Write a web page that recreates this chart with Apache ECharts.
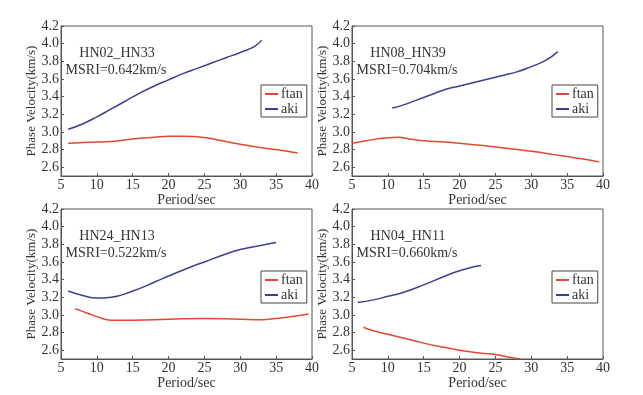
<!DOCTYPE html>
<html>
<head>
<meta charset="utf-8">
<script src="https://cdn.jsdelivr.net/npm/echarts@6/dist/echarts.min.js"></script>
<style>
  html, body { margin: 0; padding: 0; background: #fff; }
  #chart { width: 643px; height: 395px; }
</style>
</head>
<body>
<div id="chart"></div>
<script>
  // panel labels
  var pairNames = ['HN02_HN33', 'HN08_HN39', 'HN24_HN13', 'HN04_HN11']
  var msriLabels = ['MSRI=0.642km/s', 'MSRI=0.704km/s', 'MSRI=0.522km/s', 'MSRI=0.660km/s']
  var xTicks = [5, 10, 15, 20, 25, 30, 35, 40]
  var yTicks = [2.6, 2.8, 3.0, 3.2, 3.4, 3.6, 3.8, 4.0, 4.2]

  // [period, velocity]
  var ftan1 = [[6, 2.87], [8, 2.88], [10, 2.885], [12, 2.89], [15, 2.92], [18, 2.94], [20, 2.95], [22, 2.95], [25, 2.935], [28, 2.89], [30, 2.86], [33, 2.82], [35, 2.80], [38, 2.76]]
  var aki1 = [[6, 3.03], [8, 3.09], [10, 3.17], [12, 3.26], [14, 3.35], [16, 3.44], [18, 3.52], [20, 3.59], [22, 3.66], [24, 3.72], [26, 3.78], [28, 3.84], [30, 3.90], [32, 3.97], [33, 4.04]]

  var ftan2 = [[5, 2.87], [7, 2.90], [9, 2.925], [11.5, 2.94], [13, 2.92], [15, 2.90], [18, 2.885], [20, 2.87], [22, 2.855], [25, 2.83], [28, 2.80], [30, 2.78], [33, 2.745], [35, 2.72], [37, 2.695], [39.5, 2.66]]
  var aki2 = [[10.6, 3.27], [12, 3.30], [14, 3.36], [16, 3.42], [18, 3.48], [20, 3.52], [22, 3.56], [24, 3.60], [26, 3.64], [28, 3.68], [30, 3.74], [32, 3.81], [33.7, 3.91]]

  var ftan3 = [[7, 3.07], [8, 3.04], [9, 3.01], [10, 2.98], [12, 2.94], [15, 2.94], [20, 2.95], [25, 2.96], [30, 2.95], [33, 2.945], [35, 2.96], [37.5, 2.985], [39.5, 3.01]]
  var aki3 = [[6, 3.27], [8, 3.22], [10, 3.19], [12, 3.20], [15, 3.27], [18, 3.37], [20, 3.44], [23, 3.54], [25, 3.60], [28, 3.69], [30, 3.74], [33, 3.79], [35, 3.82]]

  var ftan4 = [[6.6, 2.86], [8, 2.82], [10, 2.78], [12, 2.74], [15, 2.68], [18, 2.63], [20, 2.60], [23, 2.565], [25, 2.55], [27, 2.52], [28.5, 2.50]]
  var aki4 = [[5.8, 3.14], [8, 3.17], [10, 3.21], [12, 3.25], [15, 3.34], [18, 3.44], [20, 3.50], [22, 3.545], [23, 3.56]]

  var ftanData = [ftan1, ftan2, ftan3, ftan4]
  var akiData = [aki1, aki2, aki3, aki4]

  var red = '#e4472f'
  var blue = '#3b4190'
  var font = 'Liberation Serif'
  var ink = '#333'

  // panel boxes
  var boxes = [
    { left: 61, top: 26 },
    { left: 352, top: 26 },
    { left: 61, top: 209 },
    { left: 352, top: 209 }
  ]
  var boxW = 251
  var boxH = 150

  var chart = echarts.init(document.getElementById('chart'))

  var grids = [], xAxes = [], yAxes = [], series = [], legends = [], graphics = []
  boxes.forEach(function (b, i) {
    grids.push({
      left: b.left, top: b.top, width: boxW, height: boxH,
      show: true, borderColor: '#555', borderWidth: 1, backgroundColor: '#fff'
    })
    xAxes.push({
      gridIndex: i, type: 'value', min: 5, max: 40, interval: 5,
      name: 'Period/sec', nameLocation: 'middle', nameGap: 16,
      nameTextStyle: { fontFamily: font, fontSize: 14, color: ink },
      axisLine: { lineStyle: { color: '#555' } },
      axisTick: { inside: true, length: 3, lineStyle: { color: '#555' } },
      axisLabel: { fontFamily: font, fontSize: 14, color: ink, margin: 2 },
      splitLine: { show: false }
    })
    yAxes.push({
      gridIndex: i, type: 'value', min: 2.5, max: 4.2, interval: 0.1,
      name: 'Phase Velocity(km/s)', nameLocation: 'middle', nameGap: 22,
      nameTextStyle: { fontFamily: font, fontSize: 13, color: ink },
      axisLine: { lineStyle: { color: '#555' } },
      axisTick: { inside: true, length: 3, lineStyle: { color: '#555' },
        customValues: yTicks },
      axisLabel: { fontFamily: font, fontSize: 14, color: ink, margin: 2,
        customValues: yTicks,
        formatter: function (v) { return v.toFixed(1) } },
      splitLine: { show: false }
    })
    series.push({
      name: 'ftan', type: 'line', xAxisIndex: i, yAxisIndex: i,
      data: ftanData[i], smooth: true, symbol: 'none', clip: true,
      lineStyle: { color: red, width: 1.5 }, itemStyle: { color: red }
    })
    series.push({
      name: 'aki', type: 'line', xAxisIndex: i, yAxisIndex: i,
      data: akiData[i], smooth: true, symbol: 'none', clip: true,
      lineStyle: { color: blue, width: 1.5 }, itemStyle: { color: blue }
    })
    legends.push({
      data: ['ftan', 'aki'], orient: 'vertical',
      left: b.left + boxW - 51, top: b.top + (i < 2 ? 59 : 62),
      icon: 'rect', itemWidth: 13, itemHeight: 2, itemGap: 1,
      padding: [2, 4, 1, 4],
      borderColor: '#444', borderWidth: 1, backgroundColor: '#fff',
      textStyle: { fontFamily: font, fontSize: 14, color: ink, padding: [0, 0, 0, -2] }
    })
    graphics.push({
      type: 'text', x: b.left + 56, y: b.top + 20,
      style: { text: pairNames[i], font: '14px "' + font + '"', fill: ink, textAlign: 'center' }
    })
    graphics.push({
      type: 'text', x: b.left + 55, y: b.top + 37,
      style: { text: msriLabels[i], font: '14px "' + font + '"', fill: ink, textAlign: 'center' }
    })
  })

  chart.setOption({
    backgroundColor: '#fff',
    animation: false,
    grid: grids,
    xAxis: xAxes,
    yAxis: yAxes,
    legend: legends,
    series: series,
    graphic: graphics
  })
</script>
</body>
</html>
